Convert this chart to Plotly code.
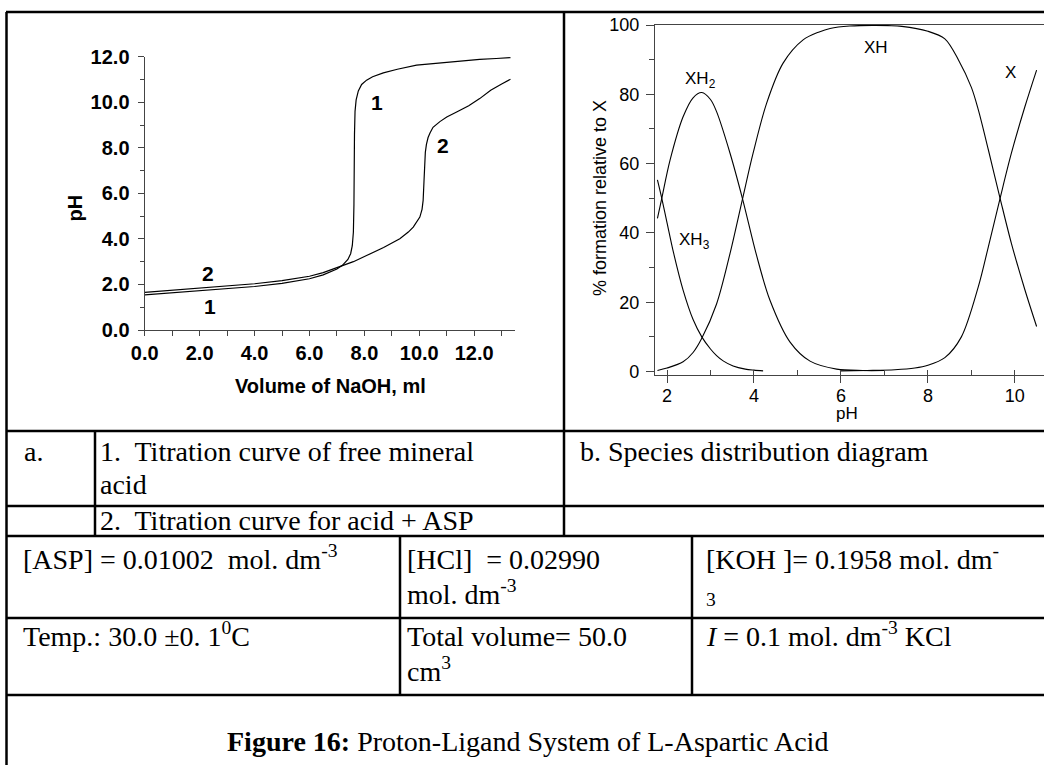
import plotly.graph_objects as go

W, H = 1044, 765

# ---------------- data: titration curves (a) ----------------
vol_free = [0, 1, 2, 3, 4, 5, 6, 6.5, 7.0, 7.2, 7.4, 7.5, 7.56, 7.6, 7.62, 7.64, 7.66, 7.7,
            7.78, 7.9, 8.08, 8.3, 8.69, 9.2, 9.9, 10.5, 11.11, 11.7, 12.2, 12.8, 13.32]
ph_free = [1.54, 1.64, 1.74, 1.82, 1.91, 2.05, 2.25, 2.42, 2.68, 2.84, 3.1, 3.35, 3.7, 4.3, 5.5,
           8.6, 9.6, 10.1, 10.5, 10.78, 10.97, 11.12, 11.29, 11.45, 11.63, 11.7, 11.77, 11.83,
           11.88, 11.92, 11.96]

vol_asp = [0, 1, 2, 3, 4, 5, 6, 6.5, 7.0, 7.23, 7.6, 8.08, 8.7, 9.29, 9.6, 9.78, 9.92, 10.02,
           10.1, 10.14, 10.17, 10.19, 10.22, 10.26, 10.32, 10.39, 10.5, 10.75, 11.0, 11.36,
           11.8, 12.2, 12.6, 13.0, 13.32]
ph_asp = [1.65, 1.74, 1.84, 1.93, 2.03, 2.17, 2.36, 2.52, 2.74, 2.85, 3.0, 3.27, 3.62, 4.01,
          4.3, 4.52, 4.75, 4.96, 5.3, 5.69, 6.5, 7.3, 7.8, 8.15, 8.45, 8.65, 8.9, 9.15, 9.35,
          9.57, 9.85, 10.16, 10.53, 10.8, 11.01]

# ---------------- data: species distribution (b) ----------------
ph_xh3 = [1.78, 1.88, 2.0, 2.15, 2.37, 2.6, 2.8, 3.0, 3.14, 3.3, 3.52, 3.8, 4.0, 4.21]
pc_xh3 = [55.3, 50, 43, 34.3, 23.5, 15.0, 10.0, 6.5, 4.6, 3.0, 1.6, 0.7, 0.4, 0.2]

ph_xh2 = [1.78, 1.88, 2.07, 2.37, 2.6, 2.8, 3.0, 3.14, 3.45, 3.74, 4.06, 4.37, 4.83, 5.29,
          5.9, 6.5, 7.0]
pc_xh2 = [44.2, 50, 61, 73.5, 79.0, 80.5, 78.5, 75.0, 63, 49.7, 33.5, 20.5, 8.5, 3.0,
          0.7, 0.3, 0.3]

ph_xh = [1.78, 2.0, 2.37, 2.6, 2.8, 3.14, 3.45, 3.74, 3.98, 4.29, 4.67, 5.13, 5.5, 5.75, 6.2,
         6.8, 7.4, 8.0, 8.39, 8.7, 9.0, 9.16, 9.39, 9.66, 9.92, 10.23, 10.5]
pc_xh = [0.3, 1.0, 2.8, 5.5, 9.6, 19.5, 34.1, 50, 63, 77.4, 89, 95.7, 98, 99, 99.7,
         99.9, 99.6, 98.2, 96.0, 90.0, 82.0, 75.5, 64.0, 50.0, 37.0, 23.6, 13.0]

ph_x = [6.0, 6.6, 7.24, 7.7, 8.0, 8.39, 8.77, 9.16, 9.39, 9.66, 9.92, 10.23, 10.5]
pc_x = [0.2, 0.3, 0.5, 1.0, 1.8, 4.0, 10, 24.5, 36, 50.0, 63, 76.4, 87]

# curve labels
lab_a_text = ["1", "2", "2", "1"]
lab_a_x = [8.45, 10.87, 2.32, 2.38]
lab_a_y = [10.0, 8.08, 2.47, 1.03]

lab_b_text = ["XH<sub>2</sub>", "XH<sub>3</sub>", "XH", "X"]
lab_b_x = [2.76, 2.64, 6.80, 9.89]
lab_b_y = [84.0, 37.6, 93.5, 86.4]

SANS = "Liberation Sans, Arial, sans-serif"
SERIF = "Liberation Serif, Times New Roman, serif"
AX = "#444444"


def PX(px):
    return px / W


def PY(py):
    return 1 - py / H


fig = go.Figure()

for xs, ys in [(vol_free, ph_free), (vol_asp, ph_asp)]:
    fig.add_trace(go.Scatter(x=xs, y=ys, mode="lines", xaxis="x", yaxis="y",
                             line=dict(color="black", width=1.2), showlegend=False,
                             hoverinfo="skip"))

for xs, ys in [(ph_xh3, pc_xh3), (ph_xh2, pc_xh2), (ph_xh, pc_xh), (ph_x, pc_x)]:
    fig.add_trace(go.Scatter(x=xs, y=ys, mode="lines", xaxis="x2", yaxis="y2",
                             line=dict(color="black", width=1.1, shape="spline", smoothing=0.9),
                             showlegend=False, hoverinfo="skip"))

bold_tick = dict(family=SANS, size=20, color="black", weight="bold")
reg_tick = dict(family=SANS, size=18, color="black")

fig.update_layout(
    template="none",
    width=W, height=H, margin=dict(l=0, r=0, t=0, b=0, autoexpand=False),
    paper_bgcolor="white", plot_bgcolor="white", showlegend=False,
    xaxis=dict(domain=[PX(144.7), PX(515.4)], range=[0, 13.5], anchor="y", automargin=False,
               showline=True, linecolor=AX, linewidth=1.3, showgrid=False, zeroline=False,
               ticks="outside", ticklen=5, tickwidth=1.2, tickcolor=AX,
               tick0=0, dtick=2, tickformat=".1f", tickfont=bold_tick,
               minor=dict(dtick=1, ticks="outside", ticklen=5, tickwidth=1.2, tickcolor=AX,
                          showgrid=False)),
    yaxis=dict(domain=[PY(330), PY(56.7)], range=[0, 12], anchor="x", automargin=False,
               showline=True, linecolor=AX, linewidth=1.3, showgrid=False, zeroline=False,
               ticks="outside", ticklen=6, tickwidth=1.2, tickcolor=AX, ticklabelstandoff=4,
               tick0=0, dtick=2, tickformat=".1f", tickfont=bold_tick,
               minor=dict(dtick=1, ticks="outside", ticklen=4, tickwidth=1.2, tickcolor=AX,
                          showgrid=False)),
    xaxis2=dict(domain=[PX(655), 1.0], range=[1.724, 10.67], anchor="y2", automargin=False,
                showline=True, mirror=True, linecolor=AX, linewidth=1.3, showgrid=False,
                zeroline=False, ticks="outside", ticklen=7, tickwidth=1.1, tickcolor=AX,
                ticklabelstandoff=-3, tick0=0, dtick=2, tickfont=reg_tick,
                minor=dict(dtick=1, ticks="inside", ticklen=5, tickwidth=1.1, tickcolor=AX,
                           showgrid=False)),
    yaxis2=dict(domain=[PY(375), PY(25)], range=[-1, 100], anchor="x2", automargin=False,
                showline=True, linecolor=AX, linewidth=1.3, showgrid=False, zeroline=False,
                ticks="outside", ticklen=8, tickwidth=1.1, tickcolor=AX, ticklabelstandoff=3,
                tick0=0, dtick=20, tickfont=reg_tick,
                minor=dict(dtick=10, ticks="outside", ticklen=5, tickwidth=1.1, tickcolor=AX,
                           showgrid=False)),
)

ann = []
for t, x, y in zip(lab_a_text, lab_a_x, lab_a_y):
    ann.append(dict(text=t, x=x, y=y, xref="x", yref="y", showarrow=False,
                    xanchor="center", yanchor="middle",
                    font=dict(family=SANS, size=21, color="black", weight="bold")))
for t, x, y in zip(lab_b_text, lab_b_x, lab_b_y):
    ann.append(dict(text=t, x=x, y=y, xref="x2", yref="y2", showarrow=False,
                    xanchor="center", yanchor="middle",
                    font=dict(family=SANS, size=17, color="black")))

# axis titles
ann.append(dict(text="Volume of NaOH, ml", x=PX(330.8), y=PY(386), xref="paper", yref="paper",
                showarrow=False, xanchor="center", yanchor="middle",
                font=dict(family=SANS, size=20, color="black", weight="bold")))
ann.append(dict(text="pH", x=PX(74.5), y=PY(208), xref="paper", yref="paper", textangle=-90,
                showarrow=False, xanchor="center", yanchor="middle",
                font=dict(family=SANS, size=20, color="black", weight="bold")))
ann.append(dict(text="% formation relative to X", x=PX(600), y=PY(198), xref="paper",
                yref="paper", textangle=-90, showarrow=False, xanchor="center",
                yanchor="middle", font=dict(family=SANS, size=18, color="black")))
ann.append(dict(text="pH", x=PX(846.7), y=PY(413), xref="paper", yref="paper",
                showarrow=False, xanchor="center", yanchor="middle",
                font=dict(family=SANS, size=17, color="black")))

# table texts: (text, left x px, baseline px)
FS = 28
NB = "\u00a0"
table_texts = [
    ("a.", 22, 462),
    ("1." + NB + " Titration curve of free mineral", 98, 462),
    ("acid", 98, 495),
    ("b. Species distribution diagram", 578, 462),
    ("2." + NB + " Titration curve for acid + ASP", 98, 531),
    ("[ASP] = 0.01002 " + NB + "mol. dm<sup>-3</sup>", 21, 570),
    ("[HCl] " + NB + "= 0.02990", 405, 570),
    ("mol. dm<sup>-3</sup>", 405, 605),
    ("[KOH ]= 0.1958 mol. dm<sup>-</sup>", 704, 570),
    ("<sup>3</sup>", 704, 605),
    ("Temp.: 30.0 ±0. 1<sup>0</sup>C", 21, 647),
    ("Total volume= 50.0", 405, 647),
    ("cm<sup>3</sup>", 405, 682),
    ("<i>I</i> = 0.1 mol. dm<sup>-3</sup> KCl", 704, 647),
]
for t, x, b in table_texts:
    ann.append(dict(text=t, x=PX(x), y=PY(b + 0.216 * FS + 1), xref="paper", yref="paper",
                    showarrow=False, xanchor="left", yanchor="bottom",
                    font=dict(family=SERIF, size=FS, color="black")))
ann.append(dict(text="<b>Figure 16:</b> Proton-Ligand System of L-Aspartic Acid",
                x=PX(527), y=PY(752 + 0.216 * FS + 1), xref="paper", yref="paper",
                showarrow=False, xanchor="center", yanchor="bottom",
                font=dict(family=SERIF, size=FS, color="black")))

fig.update_layout(annotations=ann)

# table borders (px coordinates)
hlines = [(12, 6, W), (431, 6, W), (506, 6, W), (536, 6, W), (618, 6, W), (695, 6, W)]
vlines = [(6.5, 12, H), (564, 12, 536), (95, 431, 536), (400, 536, 695), (692, 536, 695)]
shapes = []
for y, x0, x1 in hlines:
    shapes.append(dict(type="line", xref="paper", yref="paper", x0=PX(x0), x1=PX(x1),
                       y0=PY(y), y1=PY(y), line=dict(color="black", width=2.5)))
for x, y0, y1 in vlines:
    shapes.append(dict(type="line", xref="paper", yref="paper", x0=PX(x), x1=PX(x),
                       y0=PY(y0), y1=PY(y1), line=dict(color="black", width=2.5)))
fig.update_layout(shapes=shapes)

fig.write_html("out.html", config={"responsive": False, "displayModeBar": False},
               post_script="document.body.style.margin='0';"
                           "document.body.style.padding='0';"
                           "document.body.style.overflow='hidden';")
